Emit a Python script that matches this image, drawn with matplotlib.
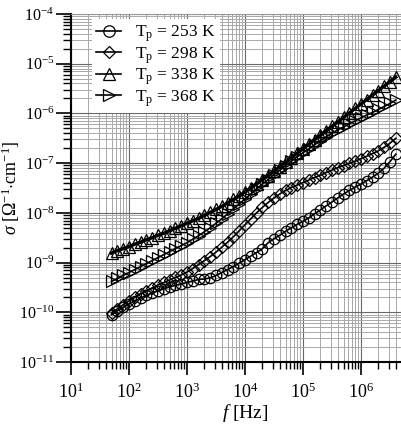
import matplotlib
matplotlib.use("Agg")
import matplotlib.pyplot as plt
import numpy as np
from matplotlib.ticker import LogLocator, NullFormatter

plt.rcParams['font.family'] = ['Liberation Serif', 'DejaVu Serif']
plt.rcParams['mathtext.fontset'] = 'custom'
plt.rcParams['mathtext.rm'] = 'Liberation Serif'
plt.rcParams['mathtext.it'] = 'Liberation Serif:italic'
plt.rcParams['mathtext.bf'] = 'Liberation Serif:bold'

# frequency points [Hz]
freq = [50, 63, 79, 100, 126, 158, 200, 251, 316, 398,
        501, 631, 794, 1000, 1259, 1585, 1995, 2512, 3162, 3981,
        5012, 6310, 7943, 1.0e4, 1.26e4, 1.58e4, 2.0e4, 2.51e4, 3.16e4, 3.98e4,
        5.01e4, 6.31e4, 7.94e4, 1.0e5, 1.26e5, 1.58e5, 2.0e5, 2.51e5, 3.16e5, 3.98e5,
        5.01e5, 6.31e5, 7.94e5, 1.0e6, 1.26e6, 1.58e6, 2.0e6, 2.51e6, 3.16e6, 3.98e6]

# log10 of conductivity [S/cm]
log_s_253 = [-10.05, -9.97, -9.90, -9.83, -9.77, -9.71, -9.66, -9.61, -9.57, -9.53,
             -9.49, -9.46, -9.43, -9.40, -9.37, -9.34, -9.33, -9.31, -9.26, -9.20,
             -9.14, -9.08, -9.01, -8.94, -8.87, -8.80, -8.72, -8.60, -8.52, -8.45,
             -8.37, -8.30, -8.23, -8.17, -8.10, -8.02, -7.94, -7.86, -7.78, -7.70,
             -7.62, -7.55, -7.48, -7.42, -7.35, -7.28, -7.20, -7.10, -6.97, -6.82]
log_s_298 = [-10.02, -9.93, -9.85, -9.77, -9.70, -9.63, -9.57, -9.51, -9.45, -9.40,
             -9.35, -9.30, -9.25, -9.19, -9.12, -9.04, -8.96, -8.88, -8.79, -8.69,
             -8.59, -8.48, -8.36, -8.24, -8.12, -8.00, -7.89, -7.79, -7.70, -7.62,
             -7.55, -7.49, -7.44, -7.39, -7.34, -7.29, -7.24, -7.19, -7.14, -7.09,
             -7.05, -7.00, -6.96, -6.91, -6.86, -6.81, -6.75, -6.68, -6.60, -6.50]
log_s_338 = [-8.81, -8.76, -8.72, -8.68, -8.63, -8.59, -8.54, -8.50, -8.45, -8.41,
             -8.36, -8.31, -8.26, -8.21, -8.16, -8.11, -8.05, -7.99, -7.93, -7.87,
             -7.80, -7.73, -7.66, -7.58, -7.50, -7.42, -7.33, -7.25, -7.16, -7.07,
             -6.98, -6.89, -6.80, -6.71, -6.62, -6.53, -6.44, -6.35, -6.26, -6.17,
             -6.08, -5.99, -5.90, -5.81, -5.72, -5.63, -5.54, -5.45, -5.36, -5.27]
log_s_368 = [-9.38, -9.32, -9.26, -9.20, -9.14, -9.08, -9.02, -8.96, -8.90, -8.84,
             -8.78, -8.72, -8.66, -8.60, -8.53, -8.46, -8.38, -8.30, -8.21, -8.12,
             -8.02, -7.92, -7.82, -7.72, -7.62, -7.52, -7.42, -7.33, -7.23, -7.14,
             -7.05, -6.96, -6.87, -6.79, -6.71, -6.63, -6.55, -6.47, -6.40, -6.33,
             -6.27, -6.21, -6.15, -6.09, -6.03, -5.98, -5.92, -5.86, -5.80, -5.73]

labels = [r'T$_{\mathrm{p}}$ = 253 K', r'T$_{\mathrm{p}}$ = 298 K',
          r'T$_{\mathrm{p}}$ = 338 K', r'T$_{\mathrm{p}}$ = 368 K']
markers = ['o', 'D', '^', '>']
series = [log_s_253, log_s_298, log_s_338, log_s_368]
msizes = [7.5, 6, 8, 8]

fig = plt.figure(figsize=(4.01, 4.24), dpi=100)
ax = fig.add_axes([71/401, 1-362/424, 348/401, 348/424])

f = np.array(freq)
for s, lab, m, ms in zip(series, labels, markers, msizes):
    ax.plot(f, 10.0**np.array(s), color='black', lw=1.2, marker=m, ms=ms,
            mfc='none', mec='black', mew=0.9, label=lab, zorder=3)
# thick fitted line through the upper curve
ax.plot(f, 10.0**np.array(log_s_338), color='black', lw=2.4, zorder=4)

ax.set_xscale('log')
ax.set_yscale('log')
ax.set_xlim(1e1, 1e7)
ax.set_ylim(1e-11, 1e-4)

ax.xaxis.set_major_locator(LogLocator(base=10, numticks=20))
ax.xaxis.set_minor_locator(LogLocator(base=10, subs=np.arange(2, 10), numticks=40))
ax.yaxis.set_major_locator(LogLocator(base=10, numticks=20))
ax.yaxis.set_minor_locator(LogLocator(base=10, subs=np.arange(2, 10), numticks=40))
ax.xaxis.set_minor_formatter(NullFormatter())
ax.yaxis.set_minor_formatter(NullFormatter())

ax.grid(which='major', color='#686868', lw=0.8)
ax.grid(which='minor', color='#a8a8a8', lw=0.7)
ax.set_axisbelow(True)

ax.tick_params(axis='x', which='major', direction='out', length=9.5, width=1.2, pad=5, labelsize=13)
ax.tick_params(axis='x', which='minor', direction='out', length=5, width=1.0)
ax.tick_params(axis='y', which='major', direction='out', length=11, width=1.2, pad=1, labelsize=11.5)
ax.tick_params(axis='y', which='minor', direction='out', length=6, width=1.0)

fig.canvas.draw()
for t in ax.get_xticklabels():
    if t.get_position()[0] > 5e6:
        t.set_visible(False)

ax.spines['left'].set_linewidth(1.5)
ax.spines['bottom'].set_linewidth(1.5)
ax.spines['top'].set_color('#999999')
ax.spines['top'].set_linewidth(0.8)

ax.set_xlabel(r'$f$ [Hz]', fontsize=14, labelpad=0)
ax.set_ylabel(r'$\sigma$ [$\Omega^{-1}$$\cdot$cm$^{-1}$]', fontsize=13)
ax.yaxis.set_label_coords(-0.14, 0.5)

leg = ax.legend(loc='upper left', bbox_to_anchor=(0.06, 0.985), fontsize=12.5,
                frameon=True, fancybox=False, framealpha=1.0, edgecolor='white',
                handlelength=1.45, handletextpad=0.8, labelspacing=0.05,
                borderpad=0.25, borderaxespad=0.0, markerscale=1.1)
leg.get_frame().set_linewidth(0)
leg.set_zorder(5)

fig.savefig('out.png', dpi=100)
